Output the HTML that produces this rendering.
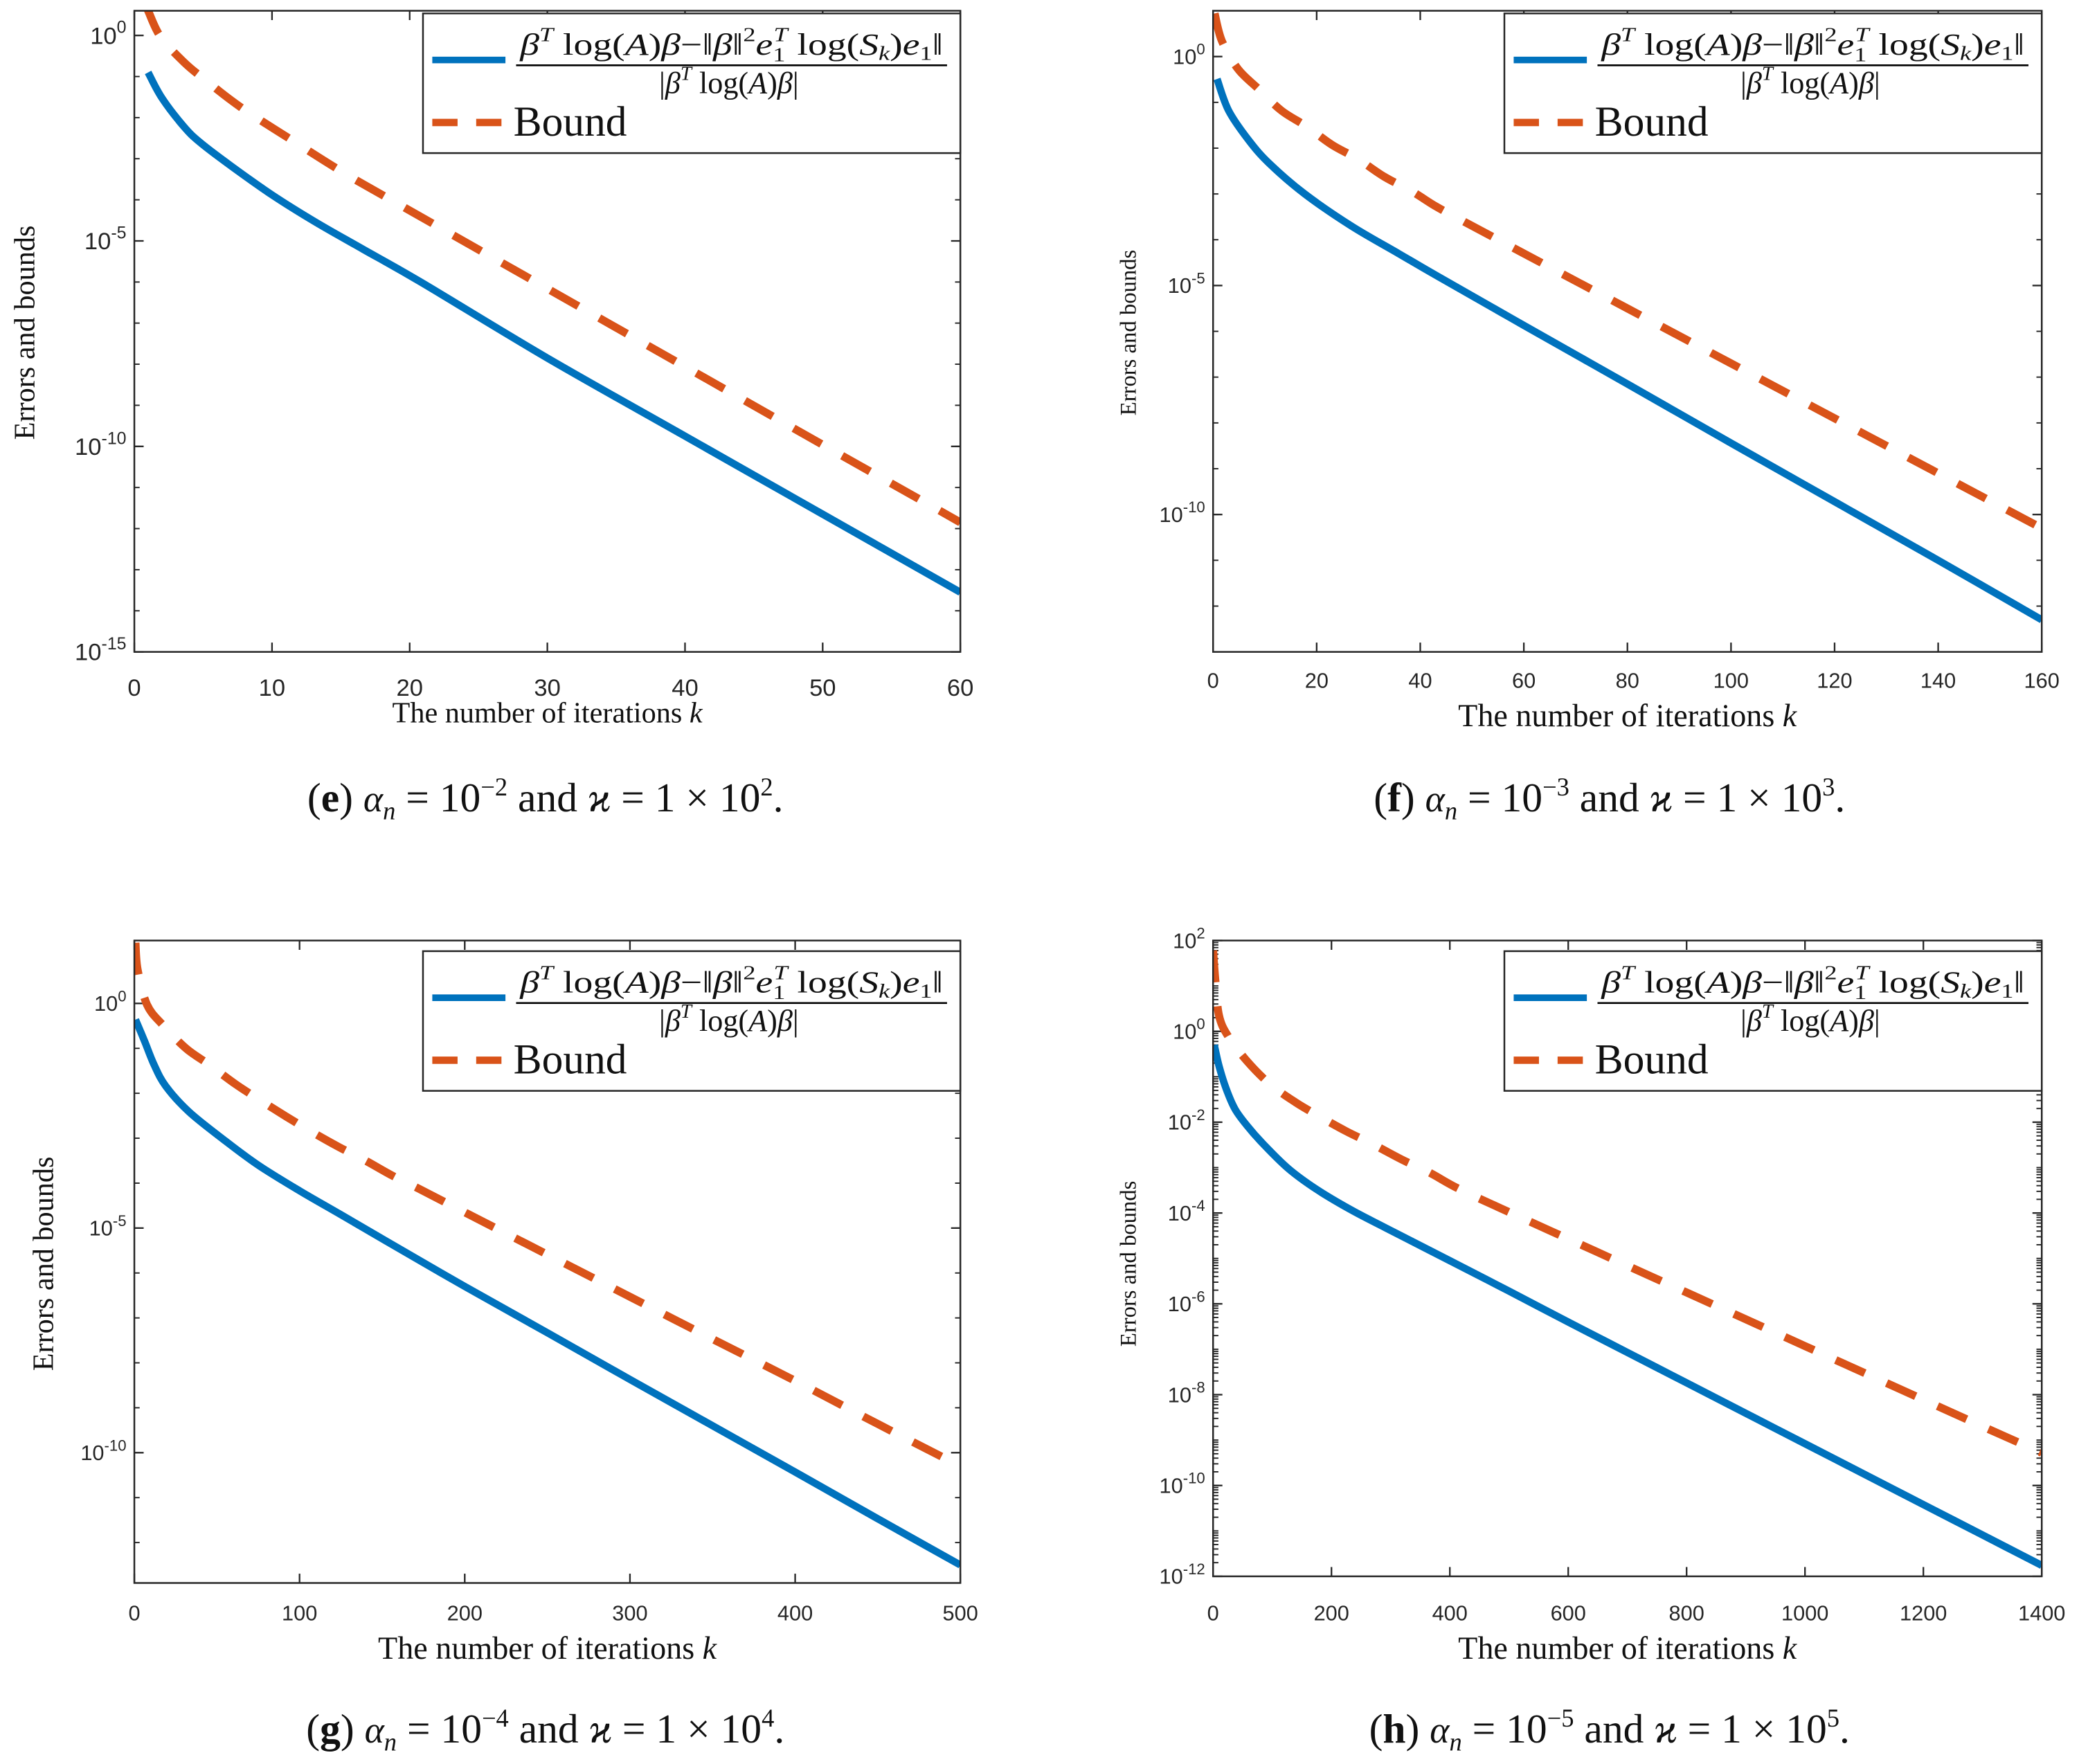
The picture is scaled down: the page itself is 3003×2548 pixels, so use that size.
<!DOCTYPE html>
<html><head><meta charset="utf-8">
<style>
html,body{margin:0;padding:0;background:#fff;}
svg{display:block;}
.tk{font-family:"Liberation Sans",sans-serif;fill:#262626;}
.sr{font-family:"Liberation Serif",serif;fill:#111;}
</style></head>
<body>
<svg id="fig" xmlns="http://www.w3.org/2000/svg" width="3003" height="2548" viewBox="0 0 1563 1326">
<rect x="0" y="0" width="1563" height="1326" fill="#fff"/>
</svg>
<script>
// Panel (e): alpha=1e-2  (values are log10 of error / bound)
const eK = [1,2,3.6,4.8,7,10,13.2,16.6,20.8,30,40,50,60];
const eErrLog = [-0.9,-1.52,-2.22,-2.61,-3.17,-3.88,-4.55,-5.2,-6.0,-7.85,-9.75,-11.65,-13.55];
const eBoundK = [0.8,1,1.9,3.6,5.1,7.7,11.5,15.2,19,30,40,50,58,60];
const eBoundLog = [0.75,0.6,-0.03,-0.65,-1.07,-1.74,-2.56,-3.34,-4.07,-6.16,-8.06,-9.96,-11.47,-11.85];
// Panel (f): alpha=1e-3
const fK = [0.77,3,6.9,10.9,17.7,26.7,35.8,43.4,60,80,100,120,140,160];
const fErrLog = [-0.49,-1.18,-1.83,-2.34,-3.0,-3.7,-4.3,-4.8,-5.87,-7.15,-8.44,-9.72,-11.0,-12.3];
const fBoundK = [0.3,1.7,4.8,8.7,13.2,18.1,23,28,33,38.5,43,48.4,60,80,100,120,140,160];
const fBoundLog = [0.94,0.34,-0.27,-0.7,-1.18,-1.53,-1.93,-2.24,-2.62,-2.95,-3.27,-3.6,-4.3,-5.5,-6.7,-7.9,-9.1,-10.3];
// Panel (g): alpha=1e-4
const gK = [0.7,6.3,12,19,33,54,75,100,124,152,200,250,300,350,400,450,500];
const gErrLog = [-0.36,-0.85,-1.37,-1.84,-2.41,-3.03,-3.6,-4.17,-4.68,-5.28,-6.3,-7.33,-8.37,-9.4,-10.43,-11.47,-12.5];
const gBoundK = [0.7,2,7.7,17.5,31.6,45.6,61,76,92,107,124,140,156,172,200,250,300,350,400,450,500];
const gBoundLog = [1.35,0.75,-0.03,-0.49,-1.01,-1.37,-1.79,-2.15,-2.52,-2.85,-3.2,-3.5,-3.83,-4.12,-4.65,-5.59,-6.53,-7.47,-8.4,-9.36,-10.3];
// Panel (h): alpha=1e-5
const hK = [2,10,22,37,57,84,127,175,233,292,400,500,600,700,800,900,1000,1100,1200,1300,1400];
const hErrLog = [-0.3,-0.76,-1.26,-1.71,-2.07,-2.47,-3.02,-3.48,-3.93,-4.33,-5.05,-5.72,-6.4,-7.07,-7.74,-8.41,-9.08,-9.75,-10.42,-11.09,-11.76];
const hBoundK = [0,4,10,25,57,96,139,178,225,272,320,367,414,500,600,700,800,900,1000,1100,1200,1300,1400];
const hBoundLog = [1.78,1.1,0.35,-0.1,-0.65,-1.16,-1.56,-1.86,-2.2,-2.5,-2.83,-3.12,-3.46,-3.98,-4.57,-5.16,-5.75,-6.34,-6.93,-7.52,-8.11,-8.7,-9.28];
// tick labels
const eXTicks = [0,10,20,30,40,50,60];
const fXTicks = [0,20,40,60,80,100,120,140,160];
const gXTicks = [0,100,200,300,400,500];
const hXTicks = [0,200,400,600,800,1000,1200,1400];
const eYTicks = [0,-5,-10,-15];
const fYTicks = [0,-5,-10];
const gYTicks = [0,-5,-10];
const hYTicks = [2,0,-2,-4,-6,-8,-10,-12];
const captions = ["e","f","g","h"];
const capExp = ["−2","−3","−4","−5"];
const capKap = ["2","3","4","5"];

const NS="http://www.w3.org/2000/svg";
const svg=document.getElementById('fig');
function mk(tag,attrs,parent){const el=document.createElementNS(NS,tag);for(const k in attrs)el.setAttribute(k,attrs[k]);(parent||svg).appendChild(el);return el;}
function smoothPath(pts){
  let d='M'+pts[0][0]+','+pts[0][1];
  for(let i=0;i<pts.length-1;i++){
    const p0=pts[Math.max(0,i-1)],p1=pts[i],p2=pts[i+1],p3=pts[Math.min(pts.length-1,i+2)];
    const c1x=p1[0]+(p2[0]-p0[0])/6,c1y=p1[1]+(p2[1]-p0[1])/6;
    const c2x=p2[0]-(p3[0]-p1[0])/6,c2y=p2[1]-(p3[1]-p1[1])/6;
    d+=' C'+c1x+','+c1y+' '+c2x+','+c2y+' '+p2[0]+','+p2[1];
  }
  return d;
}

const panels=[
 {id:"e",x0:101,x1:722,y0:8,y1:490,xmax:60,ymin:-15,ymax:0.6,fine:false,xt:eXTicks,yt:eYTicks,k:eK,err:eErrLog,bk:eBoundK,bd:eBoundLog,ylx:18,yly:250,ylfs:22,ytfs:18,xtfs:18,xtY:523,xlY:543,xlfs:22,capY:610,capX:410,leg:[318,10]},
 {id:"f",x0:912,x1:1535,y0:8,y1:490,xmax:160,ymin:-13,ymax:1,fine:false,xt:fXTicks,yt:fYTicks,k:fK,err:fErrLog,bk:fBoundK,bd:fBoundLog,ylx:848,yly:250,ylfs:17,ytfs:16,xtfs:16,xtY:517,xlY:546,xlfs:24,capY:610,capX:1210,leg:[1131,10]},
 {id:"g",x0:101,x1:722,y0:707,y1:1190,xmax:500,ymin:-12.9,ymax:1.4,fine:false,xt:gXTicks,yt:gYTicks,k:gK,err:gErrLog,bk:gBoundK,bd:gBoundLog,ylx:32,yly:950,ylfs:22,ytfs:16,xtfs:16,xtY:1218,xlY:1247,xlfs:24,capY:1310,capX:410,leg:[318,715]},
 {id:"h",x0:912,x1:1535,y0:707,y1:1185,xmax:1400,ymin:-12,ymax:2,fine:true,xt:hXTicks,yt:hYTicks,k:hK,err:hErrLog,bk:hBoundK,bd:hBoundLog,ylx:848,yly:950,ylfs:17,ytfs:16,xtfs:16,xtY:1218,xlY:1247,xlfs:24,capY:1310,capX:1210,leg:[1131,715]}
];

panels.forEach((p,pi)=>{
  const g=mk('g',{});
  
  
  const X=v=>p.x0+(v/p.xmax)*(p.x1-p.x0);
  const Y=l=>p.y0+(p.ymax-l)/(p.ymax-p.ymin)*(p.y1-p.y0);
  const clipId='clip'+p.id;
  const cp=mk('clipPath',{id:clipId},g);
  mk('rect',{x:p.x0,y:p.y0,width:p.x1-p.x0,height:p.y1-p.y0},cp);
  for(let d=Math.floor(p.ymin);d<=Math.ceil(p.ymax);d++){
    const subs=p.fine?[1,2,3,4,5,6,7,8,9]:[1];
    subs.forEach(m=>{
      const l=d+Math.log10(m);
      if(l<p.ymin-1e-9||l>p.ymax+1e-9)return;
      const y=Y(l);
      mk('line',{x1:p.x0,x2:p.x0+4,y1:y,y2:y,stroke:'#262626','stroke-width':1},g);
      mk('line',{x1:p.x1,x2:p.x1-4,y1:y,y2:y,stroke:'#262626','stroke-width':1},g);
    });
  }
  p.yt.forEach(l=>{
    const y=Y(l);
    mk('line',{x1:p.x0,x2:p.x0+7,y1:y,y2:y,stroke:'#262626','stroke-width':1.2},g);
    mk('line',{x1:p.x1,x2:p.x1-7,y1:y,y2:y,stroke:'#262626','stroke-width':1.2},g);
    const t=mk('text',{x:p.x0-6,y:y+p.ytfs*0.35,'text-anchor':'end','font-size':p.ytfs,class:'tk'},g);
    
    
    t.appendChild(document.createTextNode('10'));
    const s=mk('tspan',{dy:-p.ytfs*0.45,'font-size':p.ytfs*0.72},t);
    s.textContent=String(l);
  });
  p.xt.forEach(v=>{
    const x=X(v);
    mk('line',{x1:x,x2:x,y1:p.y1,y2:p.y1-7,stroke:'#262626','stroke-width':1.2},g);
    mk('line',{x1:x,x2:x,y1:p.y0,y2:p.y0+7,stroke:'#262626','stroke-width':1.2},g);
    const t=mk('text',{x:x,y:p.xtY,'text-anchor':'middle','font-size':p.xtfs,class:'tk'},g);
    
    
    t.textContent=v;
  });
  const cg=mk('g',{'clip-path':'url(#'+clipId+')'},g);
  const ptsB=p.bk.map((k,i)=>[X(k),Y(p.bd[i])]);
  const bl=mk('path',{d:smoothPath(ptsB),fill:'none',stroke:'#D95319','stroke-width':6,'stroke-dasharray':'24,18'},cg);
  
  
  const ptsE=p.k.map((k,i)=>[X(k),Y(p.err[i])]);
  const el=mk('path',{d:smoothPath(ptsE),fill:'none',stroke:'#0072BD','stroke-width':5.5,'stroke-linejoin':'round'},cg);
  
  
  const bx=mk('rect',{x:p.x0,y:p.y0,width:p.x1-p.x0,height:p.y1-p.y0,fill:'none',stroke:'#262626','stroke-width':1.3},g);
  
  
  const yl=mk('text',{x:p.ylx,y:p.yly,'text-anchor':'middle','font-size':p.ylfs,class:'sr',transform:'rotate(-90 '+p.ylx+' '+p.yly+')',dy:p.ylfs*0.35},g);
  
  
  yl.textContent='Errors and bounds';
  const xl=mk('text',{x:(p.x0+p.x1)/2,y:p.xlY,'text-anchor':'middle','font-size':p.xlfs,class:'sr'},g);
  
  
  xl.appendChild(document.createTextNode('The number of iterations '));
  const kk=mk('tspan',{'font-style':'italic'},xl);kk.textContent='k';
  const [lx,ly]=p.leg;
  const lg=mk('g',{},g);
  
  
  mk('rect',{x:lx,y:ly,width:404,height:105,fill:'#fff',stroke:'#262626','stroke-width':1.3},lg);
  mk('line',{x1:lx+7,x2:lx+62,y1:ly+35,y2:ly+35,stroke:'#0072BD','stroke-width':5},lg);
  mk('line',{x1:lx+7,x2:lx+62,y1:ly+82,y2:ly+82,stroke:'#D95319','stroke-width':5.5,'stroke-dasharray':'19,14'},lg);
  const num=mk('text',{x:lx+232,y:ly+31,'text-anchor':'middle','font-size':23,class:'sr','textLength':318,'lengthAdjust':'spacingAndGlyphs'},lg);
  
  
  num.innerHTML='<tspan font-style="italic">β</tspan><tspan font-size="15" dy="-10" font-style="italic">T</tspan><tspan dy="10"> log(</tspan><tspan font-style="italic">A</tspan>)<tspan font-style="italic">β</tspan>−‖<tspan font-style="italic">β</tspan>‖<tspan font-size="15" dy="-10">2</tspan><tspan dy="10" font-style="italic">e</tspan><tspan font-size="15" dy="5">1</tspan><tspan font-size="15" dy="-15" dx="-7" font-style="italic">T</tspan><tspan dy="10"> log(</tspan><tspan font-style="italic">S</tspan><tspan font-size="15" dy="4" font-style="italic">k</tspan><tspan dy="-4">)</tspan><tspan font-style="italic">e</tspan><tspan font-size="15" dy="4">1</tspan><tspan dy="-4">‖</tspan>';
  mk('line',{x1:lx+70,x2:lx+394,y1:ly+39,y2:ly+39,stroke:'#000','stroke-width':1.4},lg);
  const den=mk('text',{x:lx+230,y:ly+60,'text-anchor':'middle','font-size':23,class:'sr'},lg);
  den.innerHTML='|<tspan font-style="italic">β</tspan><tspan font-size="15" dy="-10" font-style="italic">T</tspan><tspan dy="10"> log(</tspan><tspan font-style="italic">A</tspan>)<tspan font-style="italic">β</tspan>|';
  const bt=mk('text',{x:lx+68,y:ly+92,'font-size':32,class:'sr'},lg);
  
  
  bt.textContent='Bound';
  const cap=mk('text',{x:p.capX,y:p.capY,'text-anchor':'middle','font-size':31,class:'sr'},g);
  
  
  cap.innerHTML='(<tspan font-weight="bold">'+captions[pi]+'</tspan>) <tspan font-style="italic" font-size="28">α</tspan><tspan font-style="italic" font-size="19" dy="6">n</tspan><tspan dy="-6"> = 10</tspan><tspan font-size="19" dy="-12">'+capExp[pi]+'</tspan><tspan dy="12"> and </tspan><tspan font-style="italic">ϰ</tspan> = 1 × 10<tspan font-size="19" dy="-12">'+capKap[pi]+'</tspan><tspan dy="12">.</tspan>';
});
</script>
</body></html>
